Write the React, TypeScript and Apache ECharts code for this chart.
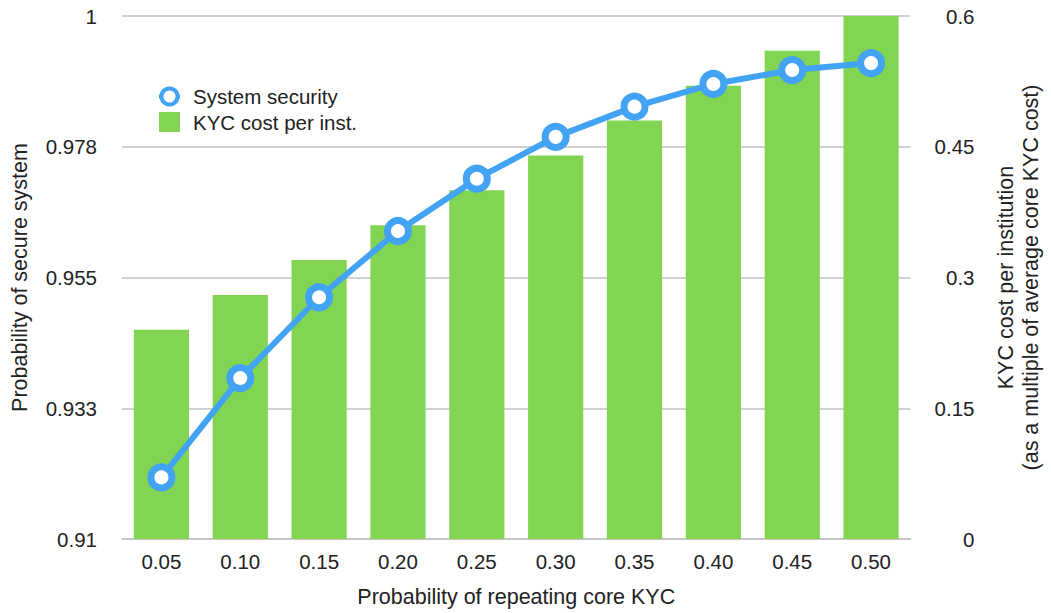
import React, { useEffect, useRef } from "react";
import * as echarts from "echarts";

// Probability of repeating core KYC
const categories = ["0.05", "0.10", "0.15", "0.20", "0.25", "0.30", "0.35", "0.40", "0.45", "0.50"];
// Probability of secure system (left axis)
const systemSecurity = [0.9206, 0.9377, 0.9516, 0.963, 0.972, 0.9792, 0.9844, 0.9883, 0.9907, 0.9919];
// KYC cost per institution, multiple of average core KYC cost (right axis)
const kycCost = [0.24, 0.28, 0.32, 0.36, 0.4, 0.44, 0.48, 0.52, 0.56, 0.6];
// Left axis tick positions and their printed labels
const leftTicks = [0.91, 0.9325, 0.955, 0.9775, 1];
const leftTickLabels = ["0.91", "0.933", "0.955", "0.978", "1"];

const FONT = "'Liberation Sans', Arial, Helvetica, sans-serif";
const TEXT = "#222222";
const GRID = "#c2c2c2";
const BLUE = "#42a2f4";
const GREEN = "#82d453";

// Layout is designed on a 1051 x 613 canvas and scaled to the container.
const DESIGN_W = 1051;
const DESIGN_H = 613;

export default function App() {
  const ref = useRef<HTMLDivElement>(null);

  useEffect(() => {
    const el = ref.current;
    if (!el) return;
    const chart = echarts.init(el, null, { renderer: "svg" });
    const sx = (el.clientWidth || DESIGN_W) / DESIGN_W;
    const sy = (el.clientHeight || DESIGN_H) / DESIGN_H;
    const sf = (sx + sy) / 2;
    const X = (v: number) => v * sx;
    const Y = (v: number) => v * sy;
    const F = (v: number) => v * sf;

    const tickSize = F(20.5);
    const titleSize = F(21.5);

    chart.setOption({
      animation: false,
      backgroundColor: "#ffffff",
      textStyle: { fontFamily: FONT, color: TEXT },
      grid: { left: X(122), top: Y(16), width: X(798), height: Y(528), containLabel: false },
      legend: {
        orient: "vertical",
        left: X(152),
        top: Y(81),
        itemWidth: F(21),
        itemHeight: F(20),
        itemGap: F(4.5),
        data: [
          {
            name: "System security",
            itemStyle: { color: "#ffffff", borderColor: BLUE, borderWidth: F(4) },
            lineStyle: { color: BLUE, width: F(4) },
          },
          { name: "KYC cost per inst.", icon: "rect" },
        ],
        textStyle: { fontFamily: FONT, fontSize: F(20.5), color: TEXT, padding: [0, 0, 0, F(8)] },
      },
      xAxis: {
        type: "category",
        data: categories,
        name: "Probability of repeating core KYC",
        nameLocation: "middle",
        nameGap: Y(47),
        nameTextStyle: { fontFamily: FONT, fontSize: titleSize, color: TEXT },
        axisLine: { show: true, lineStyle: { color: GRID, width: 1.5 } },
        axisTick: { show: false },
        axisLabel: { fontFamily: FONT, fontSize: tickSize, color: TEXT, margin: Y(12) },
      },
      yAxis: [
        {
          type: "value",
          min: 0.91,
          max: 1,
          position: "left",
          name: "Probability of secure system",
          nameLocation: "middle",
          nameRotate: 90,
          nameGap: X(91),
          nameTextStyle: { fontFamily: FONT, fontSize: titleSize, color: TEXT },
          axisLine: { show: false },
          axisTick: { show: false },
          splitLine: { show: false },
          axisLabel: {
            customValues: leftTicks,
            fontFamily: FONT,
            fontSize: tickSize,
            color: TEXT,
            margin: X(25),
            formatter: (v: number) => {
              let best = 0;
              leftTicks.forEach((t, i) => {
                if (Math.abs(t - v) < Math.abs(leftTicks[best] - v)) best = i;
              });
              return leftTickLabels[best];
            },
          },
        },
        {
          type: "value",
          min: 0,
          max: 0.6,
          interval: 0.15,
          position: "right",
          name: "KYC cost per institution\n(as a multiple of average core KYC cost)",
          nameLocation: "middle",
          nameRotate: 90,
          nameGap: X(82.5),
          nameTextStyle: { fontFamily: FONT, fontSize: titleSize, color: TEXT, lineHeight: F(25) },
          axisLine: { show: false },
          axisTick: { show: false },
          splitLine: { show: true, lineStyle: { color: GRID, width: 1.5 } },
          axisLabel: { fontFamily: FONT, fontSize: tickSize, color: TEXT, margin: X(64), align: "right" },
        },
      ],
      series: [
        {
          name: "KYC cost per inst.",
          type: "bar",
          yAxisIndex: 1,
          data: kycCost,
          barWidth: "70%",
          itemStyle: { color: GREEN },
        },
        {
          name: "System security",
          type: "line",
          yAxisIndex: 0,
          data: systemSecurity,
          z: 5,
          symbol: "circle",
          symbolSize: F(21),
          lineStyle: { color: BLUE, width: F(6) },
          itemStyle: { color: "#ffffff", borderColor: BLUE, borderWidth: F(7) },
        },
      ],
    });
    return () => chart.dispose();
  }, []);

  return (
    <div
      ref={ref}
      style={{ position: "fixed", left: 0, top: 0, width: "100vw", height: "100vh", background: "#fff" }}
    />
  );
}
